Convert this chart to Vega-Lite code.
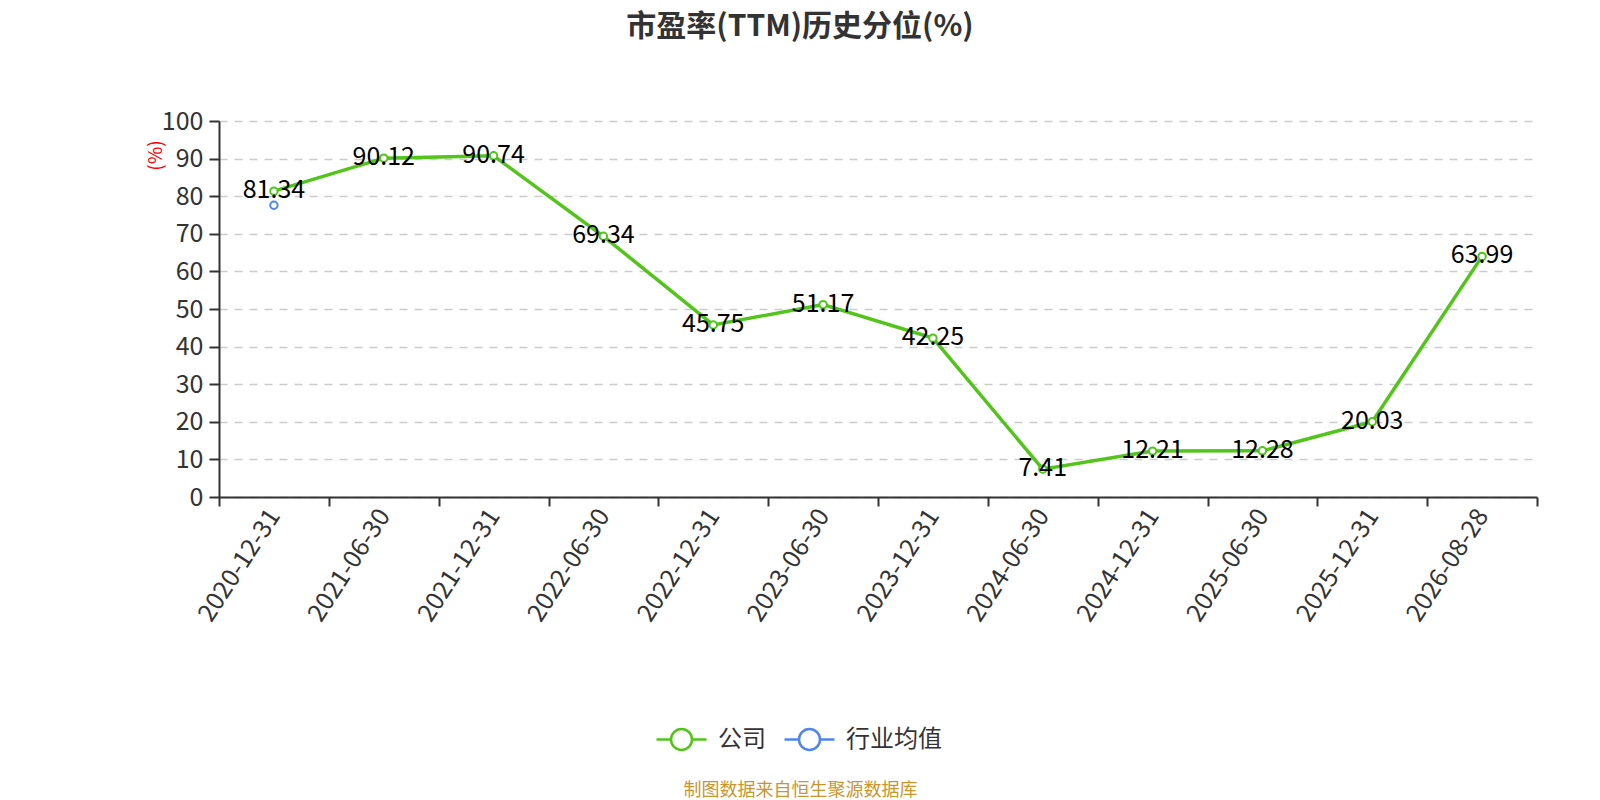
{
  "$schema": "https://vega.github.io/schema/vega-lite/v6.json",
  "autosize": {"type": "none"},
  "width": 1318,
  "height": 376,
  "padding": {"left": 219, "top": 121, "right": 63, "bottom": 303},
  "background": "white",
  "title": {
    "text": "市盈率(TTM)历史分位(%)",
    "font": "Noto Sans CJK SC",
    "fontSize": 30,
    "fontWeight": "bold",
    "color": "#333333",
    "anchor": "middle",
    "frame": "group",
    "dx": -78,
    "offset": 67
  },
  "data": {
    "values": [
      {"date": "2020-12-31", "series": "公司", "value": 81.34},
      {"date": "2021-06-30", "series": "公司", "value": 90.12},
      {"date": "2021-12-31", "series": "公司", "value": 90.74},
      {"date": "2022-06-30", "series": "公司", "value": 69.34},
      {"date": "2022-12-31", "series": "公司", "value": 45.75},
      {"date": "2023-06-30", "series": "公司", "value": 51.17},
      {"date": "2023-12-31", "series": "公司", "value": 42.25},
      {"date": "2024-06-30", "series": "公司", "value": 7.41},
      {"date": "2024-12-31", "series": "公司", "value": 12.21},
      {"date": "2025-06-30", "series": "公司", "value": 12.28},
      {"date": "2025-12-31", "series": "公司", "value": 20.03},
      {"date": "2026-08-28", "series": "公司", "value": 63.99},
      {"date": "2020-12-31", "series": "行业均值", "value": 77.6}
    ]
  },
  "encoding": {
    "x": {
      "field": "date",
      "type": "nominal",
      "sort": null,
      "scale": {"type": "band", "paddingInner": 0, "paddingOuter": 0},
      "axis": {
        "title": "制图数据来自恒生聚源数据库",
        "titleFont": "Noto Sans CJK SC",
        "titleFontSize": 18,
        "titleFontWeight": "normal",
        "titleColor": "#c8962e",
        "titleX": 581,
        "titleY": 293,
        "titleAlign": "center",
        "titleBaseline": "middle",
        "tickBand": "extent",
        "domainColor": "#333333",
        "domainWidth": 2,
        "tickColor": "#333333",
        "tickWidth": 2,
        "tickSize": 9,
        "labelAngle": -57,
        "labelAlign": "right",
        "labelBaseline": "middle",
        "labelPadding": 5,
        "labelFont": "Noto Sans CJK SC",
        "labelFontSize": 25,
        "labelColor": "#333333",
        "grid": false
      }
    },
    "y": {
      "field": "value",
      "type": "quantitative",
      "scale": {"domain": [0, 100], "nice": false},
      "axis": {
        "values": [0, 10, 20, 30, 40, 50, 60, 70, 80, 90, 100],
        "title": "(%)",
        "titleColor": "red",
        "titleFont": "Noto Sans CJK SC",
        "titleFontSize": 19,
        "titleFontWeight": "normal",
        "titleX": -64,
        "titleY": 34,
        "titleAlign": "center",
        "titleBaseline": "middle",
        "titleAngle": -90,
        "domainColor": "#333333",
        "domainWidth": 2,
        "tickColor": "#333333",
        "tickWidth": 2,
        "tickSize": 10,
        "labelPadding": 6,
        "labelFont": "Noto Sans CJK SC",
        "labelFontSize": 25,
        "labelColor": "#333333",
        "grid": true,
        "gridColor": "#cccccc",
        "gridDash": [8, 7],
        "gridWidth": 1.5
      }
    }
  },
  "layer": [
    {
      "mark": {"type": "line", "strokeWidth": 3.5},
      "encoding": {
        "color": {
          "field": "series",
          "type": "nominal",
          "sort": ["公司", "行业均值"],
          "scale": {"domain": ["公司", "行业均值"], "range": ["#52c41a", "#4f86e8"]},
          "legend": {
            "orient": "none",
            "direction": "horizontal",
            "legendX": 436,
            "legendY": 592,
            "title": null,
            "symbolType": "M -1 0 L -0.42 0 M 0.42 0 A 0.42 0.42 0 1 1 -0.42 0 A 0.42 0.42 0 1 1 0.42 0 L 1 0",
            "symbolSize": 2500,
            "symbolStrokeWidth": 2.5,
            "symbolFillColor": "white",
            "labelFont": "Noto Sans CJK SC",
            "labelFontSize": 24,
            "labelColor": "#333333",
            "labelOffset": 10,
            "columnPadding": 13
          }
        }
      }
    },
    {
      "mark": {"type": "point", "filled": false, "fill": "white", "fillOpacity": 1, "size": 55, "strokeWidth": 2, "opacity": 1},
      "encoding": {
        "color": {"field": "series", "type": "nominal", "legend": null}
      }
    },
    {
      "transform": [{"filter": "datum.series === '公司'"}],
      "mark": {"type": "text", "font": "Noto Sans CJK SC", "fontSize": 25, "color": "#000000", "align": "center", "baseline": "middle", "dy": -1},
      "encoding": {
        "text": {"field": "value", "type": "quantitative", "format": ".2f"}
      }
    }
  ],
  "config": {
    "view": {"stroke": null}
  }
}
